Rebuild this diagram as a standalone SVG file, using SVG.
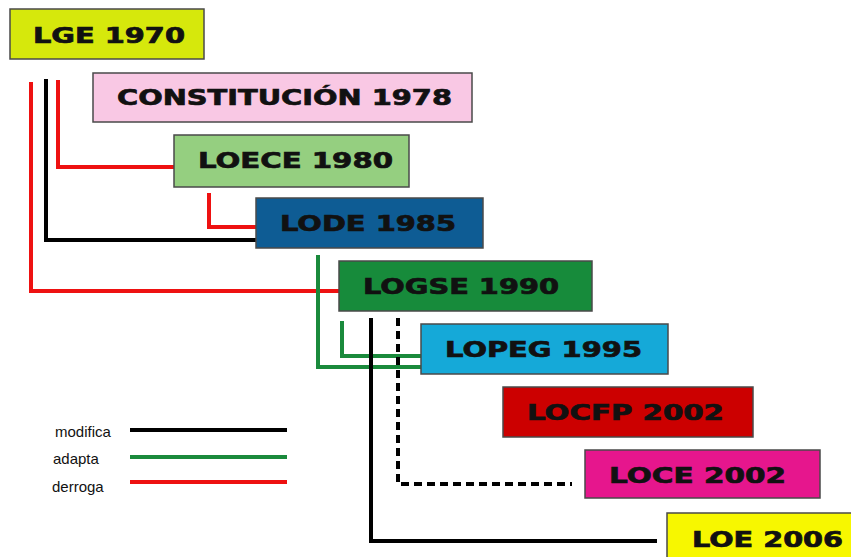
<svg xmlns="http://www.w3.org/2000/svg" width="851" height="557" viewBox="0 0 851 557">
<style>
.box{stroke:#4a4a4a;stroke-width:1.5}
.t{font-family:"DejaVu Sans","Liberation Sans",sans-serif;font-weight:bold;font-size:21px;fill:#111;stroke:#111;stroke-width:0.7}
.lg{font-family:"Liberation Sans",Arial,sans-serif;font-size:15px;fill:#111}
.c{fill:none;stroke-width:4}
.k{stroke:#000}
.g{stroke:#1a8a3c}
.r{stroke:#ee1111}
</style>
<rect width="851" height="557" fill="#fff"/>
<g id="connectors">
<polyline class="c r" points="31,82 31,291 339,291"/>
<polyline class="c k" points="46,79 46,240 256,240"/>
<polyline class="c r" points="58,80 58,167 174,167"/>
<polyline class="c r" points="209,193 209,227 256,227"/>
<polyline class="c g" points="318,255 318,367 421,367"/>
<polyline class="c g" points="342,321 342,356 421,356"/>
<polyline class="c k" points="371,318 371,541 657,541"/>
<polyline class="c k" points="398,318 398,484 572,484" stroke-dasharray="8,5"/>
</g>
<g id="LGE1970"><rect class="box" x="10" y="9" width="194" height="50" fill="#d6e80c"/><text class="t" x="33" y="43" textLength="152" lengthAdjust="spacingAndGlyphs">LGE 1970</text></g>
<g id="CONSTITUCION1978"><rect class="box" x="93" y="73" width="379" height="49" fill="#f9c8e4"/><text class="t" x="117" y="105" textLength="335" lengthAdjust="spacingAndGlyphs">CONSTITUCIÓN 1978</text></g>
<g id="LOECE1980"><rect class="box" x="174" y="135" width="235" height="52" fill="#95cf80"/><text class="t" x="198" y="168" textLength="195" lengthAdjust="spacingAndGlyphs">LOECE 1980</text></g>
<g id="LODE1985"><rect class="box" x="256" y="198" width="227" height="50" fill="#0e5c94"/><text class="t" x="280" y="231" textLength="176" lengthAdjust="spacingAndGlyphs">LODE 1985</text></g>
<g id="LOGSE1990"><rect class="box" x="339" y="261" width="253" height="50" fill="#178b3b"/><text class="t" x="363" y="294" textLength="196" lengthAdjust="spacingAndGlyphs">LOGSE 1990</text></g>
<g id="LOPEG1995"><rect class="box" x="421" y="324" width="247" height="50" fill="#15a9d8"/><text class="t" x="445" y="357" textLength="197" lengthAdjust="spacingAndGlyphs">LOPEG 1995</text></g>
<g id="LOCFP2002"><rect class="box" x="503" y="387" width="250" height="50" fill="#cc0000"/><text class="t" x="527" y="420" textLength="197" lengthAdjust="spacingAndGlyphs">LOCFP 2002</text></g>
<g id="LOCE2002"><rect class="box" x="585" y="450" width="235" height="48" fill="#e6168d"/><text class="t" x="609" y="483" textLength="177" lengthAdjust="spacingAndGlyphs">LOCE 2002</text></g>
<g id="LOE2006"><rect class="box" x="667" y="513" width="195" height="50" fill="#f7f700"/><text class="t" x="692" y="547" textLength="151" lengthAdjust="spacingAndGlyphs">LOE 2006</text></g>
<g id="legend">
<text class="lg" x="55" y="437">modifica</text>
<line class="c k" x1="130" y1="430" x2="287" y2="430"/>
<text class="lg" x="53" y="464">adapta</text>
<line class="c g" x1="130" y1="457" x2="287" y2="457"/>
<text class="lg" x="52" y="492">derroga</text>
<line class="c r" x1="130" y1="482" x2="287" y2="482"/>
</g>
</svg>
